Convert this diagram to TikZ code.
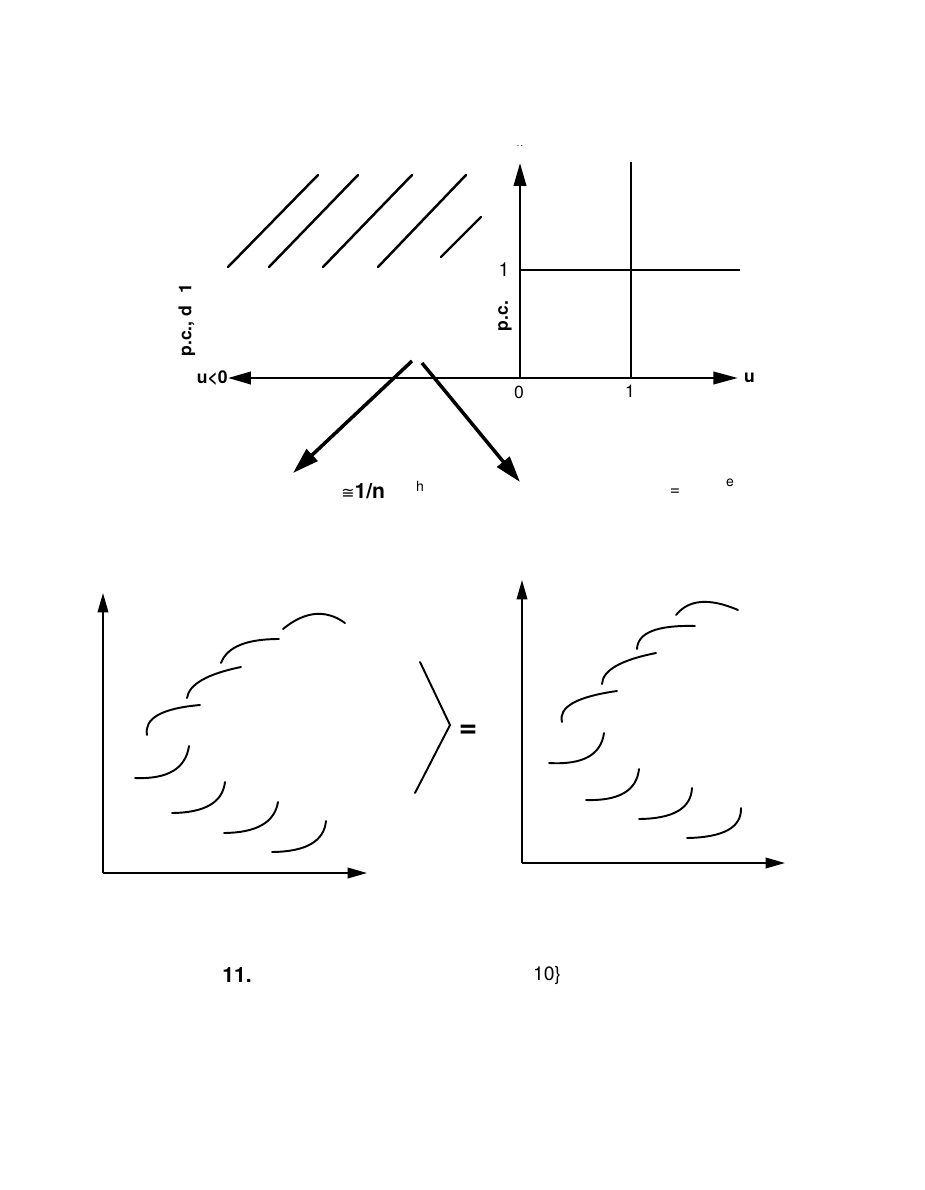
\documentclass[tikz,border=0pt]{standalone}
\usepackage{fontspec}
\setmainfont{TeX Gyre Heros}
\newfontfamily\congfont{DejaVu Sans}
\usetikzlibrary{arrows.meta,positioning,calc}
\tikzset{
  axis/.style={-{Triangle[length=13pt,width=7pt]},line width=1.6pt},
  twoaxis/.style={{Triangle[length=13pt,width=7pt]}-{Triangle[length=14pt,width=7pt]},line width=1.6pt},
  smallaxis/.style={-{Triangle[length=11pt,width=6pt]},line width=1.1pt},
  split/.style={-{Triangle[length=15pt,width=9pt]},line width=2pt},
  hatch/.style={line width=1.4pt,line cap=round},
  gridline/.style={line width=1.5pt},
  curve/.style={line width=1.1pt,line cap=round},
  lbl/.style={font=\fontsize{10}{12}\selectfont,inner sep=1pt},
  boldlbl/.style={font=\fontsize{10}{12}\selectfont\bfseries,inner sep=1pt},
  note/.style={font=\fontsize{8}{9}\selectfont,inner sep=1pt}
}
\begin{document}
\begin{tikzpicture}[x=0.02cm,y=-0.02cm]
\useasboundingbox (0,0) rectangle (924,1190);
% top: half-plane and unit square
\coordinate (O) at (520,378);
\coordinate (uneg) at (228,378);
\coordinate (upos) at (738,378);
\coordinate (ytop) at (520,163);
\draw[twoaxis] (uneg) -- (upos);
\draw[axis] (O) -- (ytop);
\coordinate (one) at (520,270);
\coordinate (oneend) at (740,270);
\coordinate (ucut) at (631,378);
\coordinate (ucuttop) at (631,162);
\draw[gridline] (one) -- (oneend);
\draw[gridline] (ucut) -- (ucuttop);
\draw[hatch] (228,267) -- (318,175);
\draw[hatch] (269,267) -- (358,175);
\draw[hatch] (323,267) -- (412,175);
\draw[hatch] (378,267) -- (466,175);
\draw[hatch] (441,257) -- (481,217);
\node[boldlbl,anchor=east,inner sep=0pt] (unegtxt) at (uneg) {u<0};
\node[boldlbl,anchor=west] (upostxt) at (742,378) {u};
\node[lbl] (zerotxt) at (519,392) {0};
\node[lbl] (onextxt) at (630,391) {1};
\node[lbl,font=\fontsize{11}{12}\selectfont] (oneytxt) at (504,270) {1};
\node[boldlbl,rotate=90] (pcright) at (505,316) {p.c.};
\node[boldlbl,rotate=90] (pcleft) at (187,320) {p.c., d\hspace{7pt}1};
\node[note,font=\tiny] (dots) at (520,146) {.\,.};
% split into two cases
\coordinate (splitL) at (412,361);
\coordinate (splitR) at (422,363);
\coordinate (caseL) at (293,473);
\coordinate (caseR) at (520,482);
\draw[split] (splitL) -- (caseL);
\draw[split] (splitR) -- (caseR);
\node[lbl,anchor=west,inner sep=0pt] (approx) at (341,491) {{\congfont\fontsize{9}{10}\selectfont ≅}\fontsize{12}{13}\selectfont\textbf{1/n}};
\node[note] (htxt) at (420,486) {h};
\node[note,font=\fontsize{10}{11}\selectfont] (eqtxt) at (675,492) {=};
\node[note] (etxt) at (730,483) {e};
% bottom left plot
\coordinate (OL) at (103,873);
\draw[smallaxis] (OL) -- (103,593);
\draw[smallaxis] (OL) -- (367,873);
\foreach \a/\m/\b in {{283,629}/{315,614}/{345,623},
    {221,663}/{240,645}/{279,639}, {187,698}/{202,680}/{241,667},
    {147,735}/{158,715}/{200,705}, {135,778}/{173,771}/{189,746},
    {172,813}/{210,805}/{225,782}, {224,833}/{262,825}/{278,802},
    {272,852}/{311,844}/{326,821}}
  {\coordinate (A) at (\a); \coordinate (M) at (\m); \coordinate (B) at (\b);
   \draw[curve] (A) .. controls ($(M)!-0.3333!(B)$) and ($(M)!-0.3333!(A)$) .. (B);}
% bottom right plot
\coordinate (OR) at (522,863);
\draw[smallaxis] (OR) -- (522,580);
\draw[smallaxis] (OR) -- (785,863);
\foreach \a/\m/\b in {{676,615}/{701,602}/{738,610},
    {637,649}/{652,631}/{695,626}, {602,684}/{616,666}/{656,653},
    {562,722}/{573,703}/{617,691}, {549,763}/{588,757}/{604,733},
    {586,800}/{624,793}/{639,769}, {639,819}/{678,811}/{692,788},
    {687,838}/{728,830}/{741,808}}
  {\coordinate (A) at (\a); \coordinate (M) at (\m); \coordinate (B) at (\b);
   \draw[curve] (A) .. controls ($(M)!-0.3333!(B)$) and ($(M)!-0.3333!(A)$) .. (B);}
% the two are equal
\coordinate (brtop) at (420,662);
\coordinate (brmid) at (450,725);
\coordinate (brbot) at (415,793);
\draw[curve] (brtop) -- (brmid) -- (brbot);
\node[lbl,font=\fontsize{18}{18}\selectfont\bfseries] (eqsign) at (468,731) {=};
\node[lbl,font=\fontsize{12}{13}\selectfont\bfseries] (figA) at (237,975) {11.};
\node[lbl,font=\fontsize{11}{13}\selectfont] (figB) at (547,975) {10\}};
\end{tikzpicture}
\end{document}
